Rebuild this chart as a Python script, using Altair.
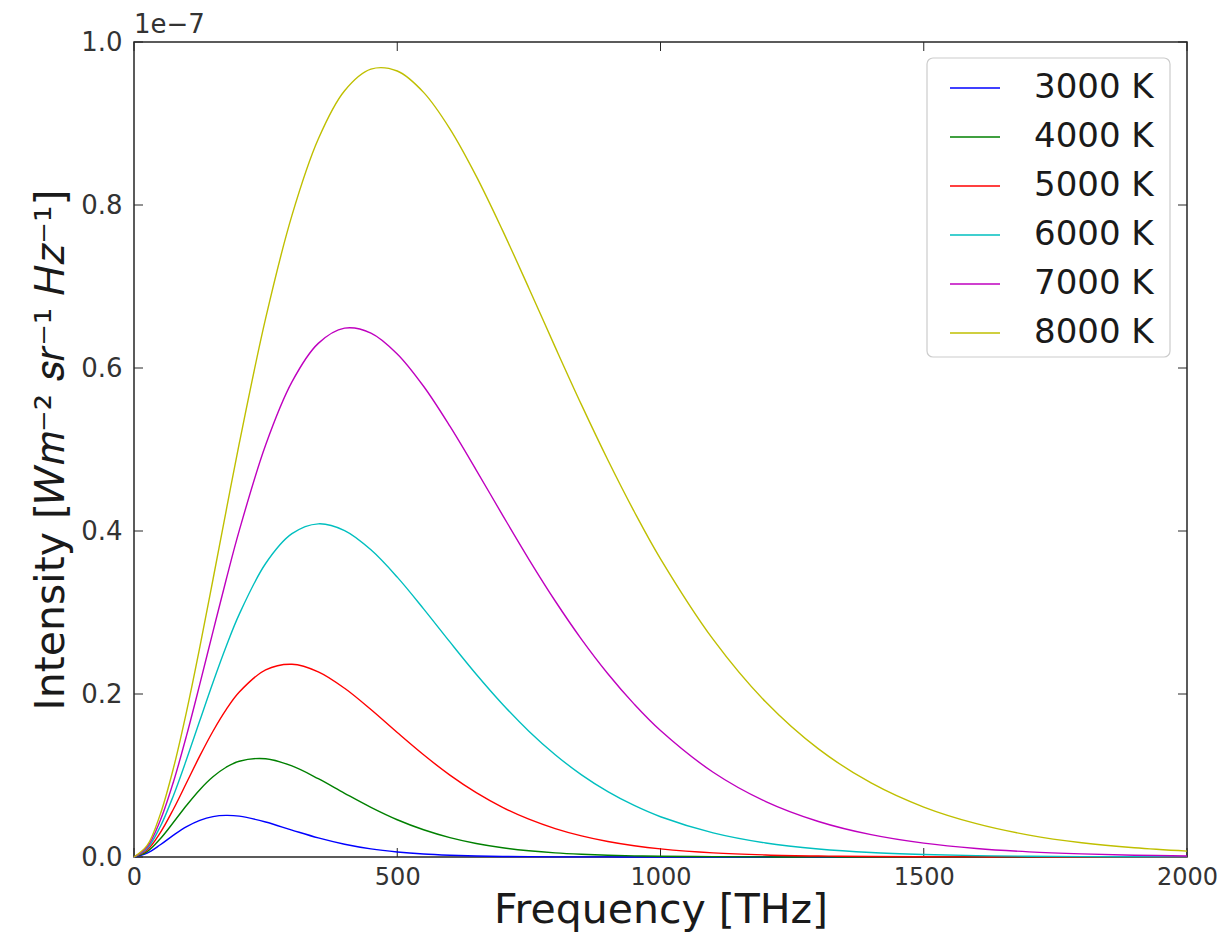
import altair as alt
import pandas as pd

# Frequencies [THz] at which the curves were read
freq = [0, 25, 50, 75, 100, 125, 150, 175, 200, 250, 300, 350, 400, 450, 500,
        550, 600, 650, 700, 750, 800, 850, 900, 950, 1000, 1100, 1200, 1300,
        1400, 1500, 1600, 1700, 1800, 1900, 2000]

# Intensities in units of 1e-7 W m^-2 sr^-1 Hz^-1
i3000 = [0, .0047, .0150, .0268, .0373, .0450, .0496, .0511, .0501, .0429, .0330, .0234,
         .0157, .0100, .0062, .0037, .0022, .0012, .0007, .0004, .0002, .0001, .0001,
         0, 0, 0, 0, 0, 0, 0, 0, 0, 0, 0, 0]
i4000 = [0, .0066, .0224, .0426, .0635, .0826, .0984, .1101, .1175, .1206, .1117, .0961,
         .0782, .0609, .0457, .0334, .0238, .0166, .0114, .0077, .0051, .0034, .0022,
         .0014, .0009, .0004, .0001, .0001, 0, 0, 0, 0, 0, 0, 0]
i5000 = [0, .0085, .0299, .0589, .0914, .1240, .1543, .1808, .2024, .2296, .2365, .2272,
         .2070, .1809, .1527, .1254, .1005, .0790, .0610, .0464, .0349, .0259, .0190,
         .0138, .0100, .0051, .0025, .0012, .0006, .0003, .0001, .0001, 0, 0, 0]
i6000 = [0, .0104, .0374, .0756, .1202, .1674, .2142, .2583, .2980, .3601, .3967, .4088,
         .4005, .3769, .3434, .3045, .2639, .2243, .1875, .1544, .1255, .1008, .0802,
         .0632, .0494, .0296, .0172, .0099, .0055, .0031, .0017, .0009, .0005, .0003, .0001]
i7000 = [0, .0123, .0450, .0924, .1495, .2121, .2766, .3402, .4007, .5055, .5829, .6302,
         .6489, .6429, .6173, .5776, .5286, .4748, .4195, .3653, .3141, .2671, .2249,
         .1876, .1552, .1040, .0680, .0436, .0274, .0170, .0104, .0063, .0038, .0022, .0013]
i8000 = [0, .0142, .0526, .1093, .1791, .2575, .3405, .4248, .5077, .6608, .7873, .8810,
         .9402, .9667, .9644, .9382, .8935, .8355, .7689, .6979, .6256, .5547, .4871,
         .4239, .3659, .2670, .1901, .1326, .0909, .0613, .0409, .0269, .0175, .0113, .0072]

temps = ["3000 K", "4000 K", "5000 K", "6000 K", "7000 K", "8000 K"]
colors = ["#0000ff", "#008000", "#ff0000", "#00bfbf", "#bf00bf", "#bfbf00"]

xtick_vals = [0, 500, 1000, 1500, 2000]
ytick_vals = [0.0, 0.2, 0.4, 0.6, 0.8, 1.0]

rows = []
for label, series in zip(temps, [i3000, i4000, i5000, i6000, i7000, i8000]):
    for f, v in zip(freq, series):
        rows.append({"freq": f, "intensity": v, "temp": label})
df = pd.DataFrame(rows)

W, H = 1053, 815
FONT = "DejaVu Sans"
FRAME = "#262626"

xs = alt.Scale(domain=[0, 2000], nice=False, zero=False)
ys = alt.Scale(domain=[0, 1], nice=False, zero=False)

xaxis = alt.Axis(values=xtick_vals, format="d", labelFontSize=24, labelFont=FONT,
                 labelColor="#333333", labelPadding=8, ticks=False, domain=False,
                 grid=False, labelFlush=False, labelOverlap=False,
                 title="Frequency [THz]", titleFontSize=41, titleFont=FONT,
                 titleFontWeight="normal", titleColor="#1a1a1a", titlePadding=1)
yaxis = alt.Axis(values=ytick_vals, format=".1f", labelFontSize=26, labelFont=FONT,
                 labelColor="#333333", labelPadding=12, ticks=False, domain=False,
                 grid=False, labelFlush=False, labelOverlap=False,
                 title="Intensity [𝑊𝑚⁻² 𝑠𝑟⁻¹ 𝐻𝑧⁻¹]", titleFontSize=41, titleFont=FONT,
                 titleFontWeight="normal", titleColor="#1a1a1a", titlePadding=8)

lines = alt.Chart(df).mark_line(interpolate="catmull-rom", strokeWidth=1.4).encode(
    x=alt.X("freq:Q", scale=xs, axis=xaxis),
    y=alt.Y("intensity:Q", scale=ys, axis=yaxis),
    color=alt.Color("temp:N", scale=alt.Scale(domain=temps, range=colors),
                    legend=alt.Legend(orient="none", legendX=793, legendY=16, title=None,
                                      labelFontSize=34, labelFont=FONT, labelColor="#1a1a1a",
                                      symbolType="stroke", symbolSize=2500,
                                      symbolStrokeWidth=1.5, labelOffset=33,
                                      rowPadding=6, padding=4, symbolOffset=18)),
)

# legend frame (rounded box, matplotlib style)
legend_box = alt.Chart(pd.DataFrame({"k": [0]})).mark_rect(
    fill="white", stroke="#cccccc", strokeWidth=1.2, cornerRadius=6
).encode(x=alt.value(793), x2=alt.value(1036), y=alt.value(16), y2=alt.value(315))

xt = pd.DataFrame({"freq": xtick_vals})
yt = pd.DataFrame({"intensity": ytick_vals})

tick_bottom = alt.Chart(xt).mark_rule(color=FRAME, strokeWidth=1).encode(
    x=alt.X("freq:Q", scale=xs, axis=xaxis), y=alt.value(H), y2=alt.value(H - 9))
tick_top = alt.Chart(xt).mark_rule(color=FRAME, strokeWidth=1).encode(
    x=alt.X("freq:Q", scale=xs, axis=xaxis), y=alt.value(0), y2=alt.value(9))
tick_left = alt.Chart(yt).mark_rule(color=FRAME, strokeWidth=1).encode(
    y=alt.Y("intensity:Q", scale=ys, axis=yaxis), x=alt.value(0), x2=alt.value(9))
tick_right = alt.Chart(yt).mark_rule(color=FRAME, strokeWidth=1).encode(
    y=alt.Y("intensity:Q", scale=ys, axis=yaxis), x=alt.value(W), x2=alt.value(W - 9))

offset_text = alt.Chart(pd.DataFrame({"t": ["1e−7"]})).mark_text(
    align="left", baseline="alphabetic", fontSize=26, font=FONT, color="#333333"
).encode(x=alt.value(0), y=alt.value(-9), text="t:N")

chart = alt.layer(tick_bottom, tick_top, tick_left, tick_right, lines, legend_box,
                  offset_text).properties(
    width=W, height=H,
    padding={"left": 126, "top": 34, "right": 30, "bottom": 88},
    autosize=alt.AutoSizeParams(type="none"),
    background="white",
).configure_view(stroke=FRAME, strokeWidth=1.5)

chart.save("out.html", embed_options={"renderer": "svg", "actions": False})
